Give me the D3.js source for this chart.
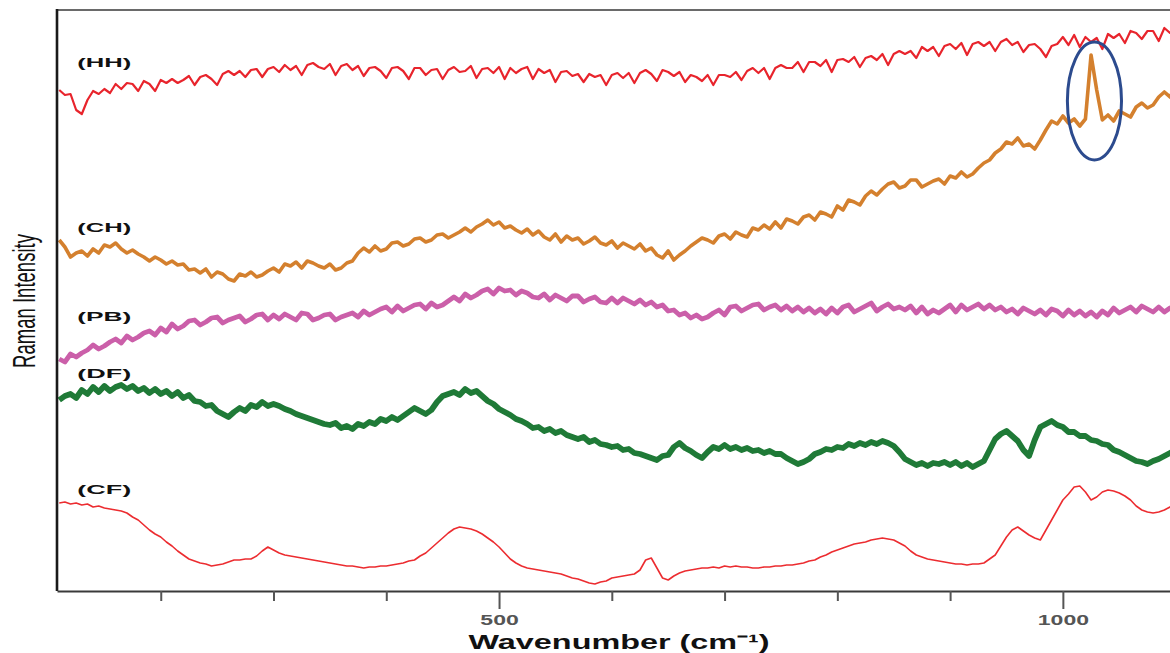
<!DOCTYPE html>
<html><head><meta charset="utf-8">
<script src="https://cdn.jsdelivr.net/npm/d3@7"></script>
<style>html,body{margin:0;padding:0;background:#fff;} svg{display:block;}</style>
</head><body>
<svg id="chart" width="1170" height="653"></svg>
<script>
// Sampling grid of the spectra (cm-1)
const waveStart = 110, waveStep = 5;

// Series labels
const seriesNames = ["HH", "CH", "PB", "DF", "CF"];

// Raman intensity (arbitrary units, offset traces)
const HH = [
500,495,496,480,476,490,499,496,501,497,506,501,507,506,499,509,506,499,510,507,
511,507,510,514,505,513,515,511,505,516,519,515,519,513,520,521,513,521,523,518,
525,520,524,515,525,527,523,521,526,515,524,526,520,524,514,522,523,519,512,522,
523,519,511,522,522,515,520,521,511,520,523,518,519,524,512,521,522,517,523,511,
522,517,521,523,511,521,517,520,508,518,519,514,516,508,516,513,515,505,515,517,
512,517,507,517,520,516,509,520,518,514,518,508,515,513,509,515,505,515,515,513,
518,510,519,522,517,522,511,522,525,522,522,528,518,528,528,524,530,518,530,531,
528,533,523,532,534,530,536,525,536,539,536,539,532,543,539,543,534,544,546,541,
547,535,546,548,544,548,539,548,551,545,548,538,545,546,541,533,544,546,553,545,
555,543,553,548,552,541,556,552,556,547,559,557,551,559,559,549,562,557,560];

const CH = [
350,343,333,337,339,334,341,337,345,343,347,341,337,340,336,333,329,333,330,326,
329,325,326,320,321,317,321,313,318,316,311,309,316,314,318,313,315,319,322,318,
326,324,328,322,329,327,324,322,326,320,322,327,329,337,342,338,344,339,341,347,
348,344,346,351,352,348,350,355,356,352,355,358,362,358,363,366,370,365,368,362,
364,360,357,361,355,359,353,350,356,348,354,350,352,346,349,353,347,345,349,342,
347,344,341,346,339,342,335,332,339,330,335,339,344,348,352,350,347,354,356,351,
358,355,353,362,360,365,361,368,362,371,369,366,373,375,370,378,376,373,384,380,
390,388,385,394,399,395,401,406,408,402,404,410,410,403,406,409,411,406,414,412,
418,413,416,422,427,430,437,441,448,446,452,444,446,441,450,460,469,466,474,467,
471,464,471,535,500,470,475,469,479,476,473,483,487,482,485,493,498,493,503];

const PB = [
231,228,236,233,237,240,245,241,244,248,251,247,254,250,253,257,259,255,262,258,
266,261,264,269,270,265,268,272,273,267,270,272,274,268,271,275,276,270,275,271,
276,273,270,277,276,270,272,275,276,270,273,275,277,273,279,275,278,281,283,278,
284,279,282,285,286,281,287,283,285,289,293,289,296,292,295,299,301,296,302,299,
300,295,299,297,293,292,296,290,295,292,289,294,294,288,291,293,288,287,292,287,
292,289,286,290,285,288,283,285,279,280,275,277,272,275,271,273,277,280,275,283,
284,279,282,285,286,280,283,285,280,284,279,283,278,282,277,281,276,282,277,283,
285,278,281,284,287,279,283,286,281,283,280,284,277,283,276,280,277,281,285,278,
285,280,283,286,281,285,280,283,278,281,276,282,279,276,280,275,281,279,274,280,
275,279,274,278,273,279,275,282,277,280,283,278,284,281,278,283,278,282,280];

const DF = [
190,194,196,192,200,196,203,198,204,199,203,205,201,204,199,202,197,201,196,199,
194,198,192,195,189,188,184,185,179,176,173,178,182,179,185,183,188,184,186,184,
181,179,176,174,172,170,168,166,165,167,162,164,161,166,164,168,166,171,169,173,
170,174,178,182,179,176,180,188,194,196,198,195,201,197,199,194,189,186,181,178,
175,171,169,166,162,163,159,161,157,159,155,153,151,153,148,150,146,145,143,144,
140,141,137,136,134,132,130,134,135,143,147,142,139,135,132,138,143,141,145,141,
143,140,142,139,140,137,139,136,136,132,129,126,128,131,136,138,141,140,143,142,
146,144,147,145,148,146,149,147,144,138,131,128,125,127,124,127,126,128,125,128,
124,127,123,126,129,140,151,156,159,154,149,140,134,150,163,166,169,165,163,158,
158,154,154,150,149,146,145,140,138,135,132,129,128,126,129,131,134,137,140];

const CF = [
87,88,86,87,85,86,83,84,82,81,80,79,77,73,70,65,60,56,53,48,
44,39,35,31,29,27,26,24,25,26,28,30,30,31,31,34,39,43,40,37,
35,34,33,32,31,30,29,28,27,26,25,24,24,23,22,23,23,24,24,25,
26,27,29,30,34,37,42,47,52,57,61,63,62,61,59,56,52,48,43,37,
31,27,24,22,21,20,19,18,17,16,14,12,11,9,7,6,8,9,12,13,
14,15,16,20,30,32,22,12,10,14,17,19,20,21,22,22,23,22,24,23,
24,23,23,22,22,23,23,24,24,25,25,26,27,29,30,33,35,38,40,42,
44,46,47,48,50,51,52,51,50,47,44,39,35,33,31,30,29,28,27,26,
26,25,26,26,27,31,35,44,53,60,63,59,55,52,50,60,70,80,90,96,
103,104,98,90,93,98,100,99,97,94,90,84,80,78,77,78,80,83,86];

// Axis ticks
const xTicks = [200, 300, 400, 500, 600, 700, 800, 900, 1000];
const xLabelTicks = [500, 1000];

// Label anchors (wavenumber, intensity) and highlighted peak
const labelPositions = { HH: [126, 523], CH: [126, 358], PB: [126, 269], DF: [126, 212], CF: [126, 96] };
const highlightPeak = { wave: 1028, intensity: 489, halfWidth: 24, halfHeight: 59 };

const colors = { HH: "#e8242c", CH: "#d4802e", PB: "#cb5fa9", DF: "#1f7a37", CF: "#ec2c30" };
const widths = { HH: 2.2, CH: 3.6, PB: 4.8, DF: 5.8, CF: 1.6 };
const seriesData = { HH, CH, PB, DF, CF };

const svg = d3.select("#chart");
const x = d3.scaleLinear().domain([108, 1095]).range([57, 1170]);
const y = d3.scaleLinear().domain([0, 580]).range([590, 10]);

svg.append("defs").append("clipPath").attr("id", "plotclip")
  .append("rect").attr("x", x(108)).attr("y", y(580)).attr("width", x(1095) - x(108)).attr("height", y(0) - y(580));

const plot = svg.append("g").attr("clip-path", "url(#plotclip)");

["CF", "DF", "PB", "CH", "HH"].forEach(name => {
  const pts = seriesData[name].map((v, i) => [waveStart + waveStep * i, v]);
  const line = d3.line().x(d => x(d[0])).y(d => y(d[1])).curve(d3.curveLinear);
  plot.append("path").datum(pts)
    .attr("d", line)
    .attr("fill", "none")
    .attr("stroke", colors[name])
    .attr("stroke-width", widths[name])
    .attr("stroke-linejoin", "round")
    .attr("stroke-linecap", "butt");
});

// highlight ellipse
svg.append("ellipse")
  .attr("cx", x(highlightPeak.wave))
  .attr("cy", y(highlightPeak.intensity))
  .attr("rx", x(highlightPeak.wave + highlightPeak.halfWidth) - x(highlightPeak.wave))
  .attr("ry", y(highlightPeak.intensity - highlightPeak.halfHeight) - y(highlightPeak.intensity))
  .attr("fill", "none")
  .attr("stroke", "#2c4b8e")
  .attr("stroke-width", 3);

// frame: top line and left axis
svg.append("line").attr("x1", x(108)).attr("x2", 1170).attr("y1", y(580)).attr("y2", y(580))
  .attr("stroke", "#6a6a6a").attr("stroke-width", 2);
svg.append("line").attr("x1", x(108)).attr("x2", x(108)).attr("y1", y(580) - 1).attr("y2", y(0) + 1)
  .attr("stroke", "#1a1a1a").attr("stroke-width", 2.6);

// bottom axis
const xAxis = d3.axisBottom(x).tickValues(xTicks).tickSizeOuter(0)
  .tickFormat(d => xLabelTicks.includes(d) ? String(d) : "");
const gx = svg.append("g").attr("transform", `translate(0,${y(0) + 1})`).call(xAxis);
gx.select(".domain").attr("stroke", "#3a3a3a").attr("stroke-width", 2.2);
gx.selectAll(".tick line").attr("stroke", "#555").attr("stroke-width", 2)
  .attr("y2", d => xLabelTicks.includes(d) ? 18 : 10);
gx.selectAll(".tick text")
  .attr("y", 23).attr("dy", "0.71em")
  .attr("fill", "#555")
  .attr("font-family", "Liberation Sans, Arial, sans-serif")
  .attr("font-weight", "bold")
  .attr("font-size", 15)
  .attr("textLength", d => String(d).length * 12.8)
  .attr("lengthAdjust", "spacingAndGlyphs");

// axis titles
svg.append("text")
  .attr("x", 619).attr("y", 649)
  .attr("text-anchor", "middle")
  .attr("font-family", "Liberation Sans, Arial, sans-serif")
  .attr("font-weight", "bold")
  .attr("font-size", 21)
  .attr("fill", "#111")
  .attr("textLength", 301)
  .attr("lengthAdjust", "spacingAndGlyphs")
  .text("Wavenumber (cm⁻¹)");

svg.append("text")
  .attr("transform", "translate(35,301) scale(1.45,1) rotate(-90)")
  .attr("text-anchor", "middle")
  .attr("font-family", "Liberation Sans, Arial, sans-serif")
  .attr("font-size", 21)
  .attr("fill", "#111")
  .attr("textLength", 134)
  .attr("lengthAdjust", "spacingAndGlyphs")
  .text("Raman Intensity");

// series labels
seriesNames.forEach(name => {
  const p = labelPositions[name];
  svg.append("text")
    .attr("x", x(p[0])).attr("y", y(p[1]))
    .attr("font-family", "Liberation Sans, Arial, sans-serif")
    .attr("font-weight", "bold")
    .attr("font-size", 13)
    .attr("fill", "#111")
    .attr("textLength", 54)
    .attr("lengthAdjust", "spacingAndGlyphs")
    .text(`(${name})`);
});
</script>
</body></html>
